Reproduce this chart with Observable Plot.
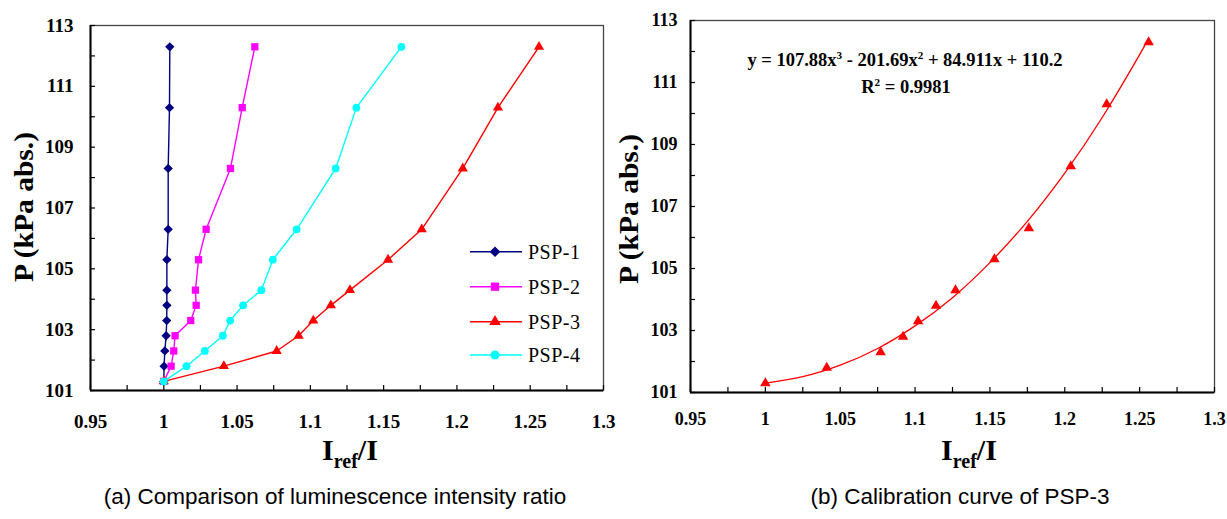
<!DOCTYPE html>
<html><head><meta charset="utf-8">
<script src="https://cdn.jsdelivr.net/npm/d3@7"></script>
<script src="https://cdn.jsdelivr.net/npm/@observablehq/plot@0.6"></script>
<style>
body{margin:0;background:#fff;}
#wrap{position:relative;width:1227px;height:519px;overflow:hidden;background:#fff}
.panel{position:absolute;top:0}
.cap{position:absolute;font-family:"Liberation Sans",Arial,sans-serif;font-size:22.5px;color:#000;white-space:nowrap;transform:translateX(-50%);line-height:1}
</style></head><body>
<div id="wrap">
 <div id="left" class="panel" style="left:0"></div>
 <div id="right" class="panel" style="left:613px"></div>
 <div class="cap" style="left:335px;top:486px">(a) Comparison of luminescence intensity ratio</div>
 <div class="cap" style="left:960px;top:486px">(b) Calibration curve of PSP-3</div>
</div>
<script>
// ---- data ----
const pressure = [101.3, 101.8, 102.3, 102.8, 103.3, 103.8, 104.3, 105.3, 106.3, 108.3, 110.3, 112.3];
const psp1 = [1.0, 1.0002, 1.0007, 1.0016, 1.002, 1.0021, 1.0021, 1.0021, 1.003, 1.003, 1.0039, 1.0041];
const psp2 = [1.0, 1.005, 1.0068, 1.0077, 1.0184, 1.0221, 1.0216, 1.0237, 1.0289, 1.0455, 1.0535, 1.0621];
const psp3 = [1.0, 1.041, 1.077, 1.092, 1.102, 1.114, 1.127, 1.153, 1.176, 1.204, 1.228, 1.256];
const psp4 = [1.0, 1.0155, 1.028, 1.0403, 1.0453, 1.0541, 1.0666, 1.0744, 1.0907, 1.1173, 1.1314, 1.1621];
const seriesNames = ["PSP-1", "PSP-2", "PSP-3", "PSP-4"];
const seriesColors = ["#000080", "#ff00ff", "#ff0000", "#00ffff"];
const seriesSymbols = ["diamond2", "square", "triangle", "circle"];
// trend curve of PSP-3 (panel b)
const trendX = [1.0, 1.025, 1.05, 1.075, 1.1, 1.125, 1.15, 1.175, 1.2, 1.225, 1.25, 1.255];
const trendP = [101.30, 101.51, 101.88, 102.42, 103.15, 104.06, 105.19, 106.52, 108.08, 109.87, 111.90, 112.34];
const xTicks = [0.95, 0.975, 1.0, 1.025, 1.05, 1.075, 1.1, 1.125, 1.15, 1.175, 1.2, 1.225, 1.25, 1.275, 1.3];
const xTickLabels = ["0.95", "", "1", "", "1.05", "", "1.1", "", "1.15", "", "1.2", "", "1.25", "", "1.3"];
const yTicks = [101, 102, 103, 104, 105, 106, 107, 108, 109, 110, 111, 112, 113];
const yTickLabels = ["101", "", "103", "", "105", "", "107", "", "109", "", "111", "", "113"];
const yLabel = "P (kPa abs.)";
const eqParts = [["y = 107.88x", "3"], [" - 201.69x", "2"], [" + 84.911x + 110.2", ""]];
const r2Parts = [["R", "2"], [" = 0.9981", ""]];

const series = [psp1, psp2, psp3, psp4];
const symR = [4.2, 4.1, 3.8, 3.9];
const xMap = new Map(xTicks.map((d, i) => [d, xTickLabels[i]]));
const yMap = new Map(yTicks.map((d, i) => [d, yTickLabels[i]]));
const serif = "'Liberation Serif','Times New Roman',serif";

function frameMarks(xPad, yPad, fs) {
  return [
    Plot.frame({stroke: "#444", strokeWidth: 1.3}),
    Plot.ruleX([0.95], {stroke: "#000", strokeWidth: 2}),
    Plot.ruleY([101], {stroke: "#000", strokeWidth: 2}),
    Plot.axisY({ticks: yTicks, tickSize: -5, tickPadding: yPad, tickFormat: d => yMap.get(d),
      fontSize: fs, fontWeight: "bold", fontFamily: serif, label: null, strokeWidth: 1.2}),
    Plot.axisX({ticks: xTicks, tickSize: -5, tickPadding: xPad, tickFormat: d => xMap.get(d),
      fontSize: fs, fontWeight: "bold", fontFamily: serif, label: null, strokeWidth: 1.2})
  ];
}

// ---- left panel ----
const leftMarks = [];
series.forEach((s, i) => {
  const data = pressure.map((p, j) => ({x: s[j], p}));
  leftMarks.push(Plot.line(data, {x: "x", y: "p", stroke: seriesColors[i], strokeWidth: 1.4}));
  leftMarks.push(Plot.dot(data, {x: "x", y: "p", symbol: seriesSymbols[i], fill: seriesColors[i], stroke: "none", r: symR[i]}));
});
const left = Plot.plot({
  width: 613, height: 470,
  marginLeft: 90, marginRight: 10, marginTop: 25, marginBottom: 80,
  x: {domain: [0.95, 1.3]},
  y: {domain: [101, 113]},
  style: {fontFamily: serif, background: "transparent", overflow: "visible"},
  marks: [...frameMarks(29, 22, 19), ...leftMarks]
});
document.getElementById("left").appendChild(left);

// ---- right panel ----
const p3 = pressure.map((p, j) => ({x: psp3[j], p}));
const trend = trendX.map((x, j) => ({x, p: trendP[j]}));
const right = Plot.plot({
  width: 614, height: 470,
  marginLeft: 77, marginRight: 13, marginTop: 20, marginBottom: 78,
  x: {domain: [0.95, 1.3]},
  y: {domain: [101, 113]},
  style: {fontFamily: serif, background: "transparent", overflow: "visible"},
  marks: [...frameMarks(25, 18, 18),
    Plot.line(trend, {x: "x", y: "p", stroke: "#ff0000", strokeWidth: 1.3, curve: "natural"}),
    Plot.dot(p3, {x: "x", y: "p", symbol: "triangle", fill: "#ff0000", stroke: "none", r: 3.9})
  ]
});
document.getElementById("right").appendChild(right);

// ---- labels ----
function addLabels(svg, yx, yy, xx, xy) {
  const s = d3.select(svg);
  s.append("text").attr("transform", `translate(${yx},${yy}) rotate(-90)`)
    .attr("text-anchor", "middle").attr("font-family", serif).attr("font-weight", "bold")
    .attr("font-size", 28).attr("textLength", 150).attr("lengthAdjust", "spacingAndGlyphs")
    .attr("fill", "#000").text(yLabel);
  const t = s.append("text").attr("x", xx).attr("y", xy).attr("text-anchor", "middle")
    .attr("font-family", serif).attr("font-weight", "bold").attr("font-size", 30).attr("fill", "#000");
  t.append("tspan").text("I");
  t.append("tspan").attr("font-size", 20).attr("dy", 8).text("ref");
  t.append("tspan").attr("dy", -8).text("/I");
}
addLabels(left, 33, 207, 350, 460);
addLabels(right, 25, 209, 356, 460);

// legend (left panel)
{
  const g = d3.select(left).append("g");
  const rowsY = [251.7, 286.7, 321.7, 355];
  const d3Sym = [d3.symbolDiamond2, d3.symbolSquare, d3.symbolTriangle, d3.symbolCircle];
  seriesNames.forEach((name, i) => {
    const y = rowsY[i];
    g.append("line").attr("x1", 470).attr("x2", 522).attr("y1", y).attr("y2", y)
      .attr("stroke", seriesColors[i]).attr("stroke-width", 1.4);
    g.append("path").attr("transform", `translate(495,${y})`)
      .attr("d", d3.symbol(d3Sym[i], Math.PI * symR[i] * symR[i] * 1.3)()).attr("fill", seriesColors[i]);
    g.append("text").attr("x", 528).attr("y", y + 7).attr("text-anchor", "start")
      .attr("font-family", serif).attr("font-size", 20).attr("letter-spacing", 0.5)
      .attr("fill", "#000").text(name);
  });
}

// equation (right panel)
function supText(svg, parts, x, y, fs) {
  const t = d3.select(svg).append("text").attr("x", x).attr("y", y).attr("text-anchor", "middle")
    .attr("font-family", serif).attr("font-weight", "bold").attr("font-size", fs).attr("fill", "#000");
  let raised = false;
  parts.forEach(([main, sup]) => {
    t.append("tspan").attr("dy", raised ? 7 : 0).text(main);
    raised = false;
    if (sup) { t.append("tspan").attr("dy", -7).attr("font-size", fs * 0.6).text(sup); raised = true; }
  });
}
supText(right, eqParts, 905 - 613, 66, 18.5);
supText(right, r2Parts, 906 - 613, 93, 18.5);
</script>
</body></html>
